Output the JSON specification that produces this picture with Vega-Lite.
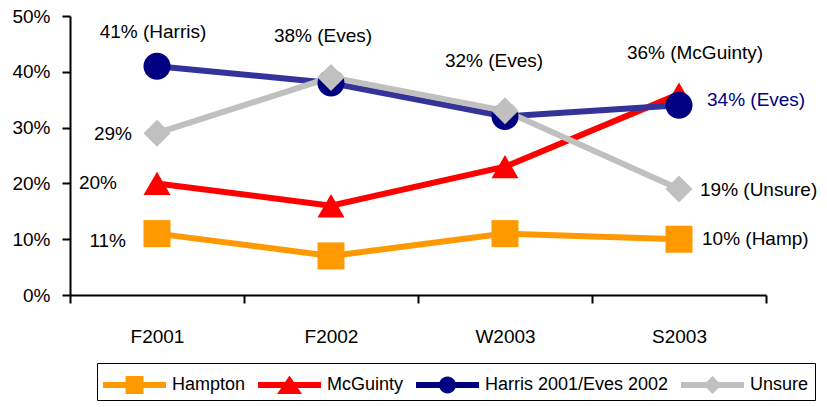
{
  "$schema": "https://vega.github.io/schema/vega-lite/v6.json",
  "width": 696,
  "height": 279,
  "autosize": {"type": "none"},
  "padding": {"left": 70, "top": 16, "right": 61, "bottom": 112},
  "background": "white",
  "config": {
    "font": "Liberation Sans, Arial, sans-serif",
    "view": {"stroke": null},
    "axis": {"grid": false, "domainColor": "black", "tickColor": "black", "domainWidth": 2, "tickWidth": 2, "tickSize": 8, "labelFontSize": 19, "labelColor": "black", "labelFont": "Liberation Sans, Arial, sans-serif"},
    "text": {"font": "Liberation Sans, Arial, sans-serif", "fontSize": 19, "baseline": "middle"}
  },
  "data": {"values": [
    {"period": "F2001", "series": "Hampton", "value": 0.11, "label": "11%"},
    {"period": "F2002", "series": "Hampton", "value": 0.07, "label": ""},
    {"period": "W2003", "series": "Hampton", "value": 0.11, "label": ""},
    {"period": "S2003", "series": "Hampton", "value": 0.10, "label": "10% (Hamp)"},
    {"period": "F2001", "series": "McGuinty", "value": 0.20, "label": "20%"},
    {"period": "F2002", "series": "McGuinty", "value": 0.16, "label": ""},
    {"period": "W2003", "series": "McGuinty", "value": 0.23, "label": ""},
    {"period": "S2003", "series": "McGuinty", "value": 0.36, "label": "36% (McGuinty)"},
    {"period": "F2001", "series": "Harris 2001/Eves 2002", "value": 0.41, "label": "41% (Harris)"},
    {"period": "F2002", "series": "Harris 2001/Eves 2002", "value": 0.38, "label": "38% (Eves)"},
    {"period": "W2003", "series": "Harris 2001/Eves 2002", "value": 0.32, "label": "32% (Eves)"},
    {"period": "S2003", "series": "Harris 2001/Eves 2002", "value": 0.34, "label": "34% (Eves)"},
    {"period": "F2001", "series": "Unsure", "value": 0.29, "label": "29%"},
    {"period": "F2002", "series": "Unsure", "value": 0.39, "label": ""},
    {"period": "W2003", "series": "Unsure", "value": 0.33, "label": ""},
    {"period": "S2003", "series": "Unsure", "value": 0.19, "label": "19% (Unsure)"}
  ]},
  "encoding": {
    "x": {"field": "period", "type": "ordinal", "sort": ["F2001", "F2002", "W2003", "S2003"],
      "scale": {"type": "band", "paddingInner": 0, "paddingOuter": 0},
      "axis": {"title": null, "labelAngle": 0, "tickBand": "extent", "labelPadding": 24}},
    "y": {"field": "value", "type": "quantitative",
      "scale": {"domain": [0, 0.5], "nice": false, "zero": true},
      "axis": {"title": null, "format": ".0%", "values": [0, 0.1, 0.2, 0.3, 0.4, 0.5], "labelPadding": 12}}
  },
  "layer": [
    {
      "mark": {"type": "line", "strokeWidth": 6},
      "encoding": {
        "color": {"field": "series", "type": "nominal",
          "scale": {"domain": ["Hampton", "McGuinty", "Harris 2001/Eves 2002", "Unsure"], "range": ["#FF9900", "#FF0000", "#333399", "#C0C0C0"]},
          "legend": null}
      }
    },
    {
      "mark": {"type": "point", "filled": true, "opacity": 1, "size": 729, "strokeWidth": 0},
      "encoding": {
        "color": {"field": "series", "type": "nominal",
          "scale": {"domain": ["Hampton", "McGuinty", "Harris 2001/Eves 2002", "Unsure"], "range": ["#FF9900", "#FF0000", "#000080", "#C0C0C0"]},
          "legend": null},
        "shape": {"field": "series", "type": "nominal",
          "scale": {"domain": ["Hampton", "McGuinty", "Harris 2001/Eves 2002", "Unsure"], "range": ["square", "triangle-up", "circle", "diamond"]},
          "legend": null}
      }
    },
    {
      "transform": [{"filter": "datum.value < 0"}],
      "mark": {"type": "point", "filled": true, "opacity": 1, "size": 1024, "strokeWidth": 0},
      "encoding": {
        "color": {"field": "series", "type": "nominal",
          "scale": {"domain": ["Hampton", "McGuinty", "Harris 2001/Eves 2002", "Unsure"], "range": ["#FF9900", "#FF0000", "#000080", "#C0C0C0"]},
          "legend": {"title": null, "orient": "none", "legendX": 27, "legendY": 347, "direction": "horizontal",
            "strokeColor": "black", "padding": 6, "labelFontSize": 18, "labelColor": "black", "labelLimit": 400,
            "labelFont": "Liberation Sans, Arial, sans-serif",
            "labelOffset": 37, "columnPadding": 12, "symbolSize": 1024, "symbolStrokeWidth": 0, "symbolOpacity": 1, "fillColor": "white"}},
        "shape": {"field": "series", "type": "nominal",
          "scale": {"domain": ["Hampton", "McGuinty", "Harris 2001/Eves 2002", "Unsure"], "range": [
            "M-1,-0.19H2.94V0.19H-1Z M0.41,-0.56H1.53V0.56H0.41Z",
            "M-1,-0.19H2.94V0.19H-1Z M0.97,-0.6L1.75,0.56L0.19,0.56Z",
            "M-1,-0.19H2.94V0.19H-1Z M0.44,0A0.53,0.53 0 1,1 1.5,0A0.53,0.53 0 1,1 0.44,0Z",
            "M-1,-0.19H2.94V0.19H-1Z M0.97,-0.56L1.53,0L0.97,0.56L0.41,0Z"
          ]}}
      }
    },
    {"transform": [{"filter": "datum.label === '41% (Harris)'"}], "mark": {"type": "text", "align": "center", "dx": -4, "dy": -34}, "encoding": {"text": {"field": "label"}}},
    {"transform": [{"filter": "datum.label === '38% (Eves)'"}], "mark": {"type": "text", "align": "center", "dx": -8, "dy": -47}, "encoding": {"text": {"field": "label"}}},
    {"transform": [{"filter": "datum.label === '32% (Eves)'"}], "mark": {"type": "text", "align": "center", "dx": -11, "dy": -55}, "encoding": {"text": {"field": "label"}}},
    {"transform": [{"filter": "datum.label === '36% (McGuinty)'"}], "mark": {"type": "text", "align": "center", "dx": 16, "dy": -41}, "encoding": {"text": {"field": "label"}}},
    {"transform": [{"filter": "datum.label === '34% (Eves)'"}], "mark": {"type": "text", "align": "left", "dx": 28, "dy": -5, "color": "#000080"}, "encoding": {"text": {"field": "label"}}},
    {"transform": [{"filter": "datum.label === '19% (Unsure)'"}], "mark": {"type": "text", "align": "left", "dx": 21, "dy": 1}, "encoding": {"text": {"field": "label"}}},
    {"transform": [{"filter": "datum.label === '10% (Hamp)'"}], "mark": {"type": "text", "align": "left", "dx": 23, "dy": 0}, "encoding": {"text": {"field": "label"}}},
    {"transform": [{"filter": "datum.label === '29%'"}], "mark": {"type": "text", "align": "right", "dx": -25, "dy": 1}, "encoding": {"text": {"field": "label"}}},
    {"transform": [{"filter": "datum.label === '20%'"}], "mark": {"type": "text", "align": "right", "dx": -40, "dy": 0}, "encoding": {"text": {"field": "label"}}},
    {"transform": [{"filter": "datum.label === '11%'"}], "mark": {"type": "text", "align": "right", "dx": -31, "dy": 7}, "encoding": {"text": {"field": "label"}}}
  ],
  "resolve": {"scale": {"color": "independent", "shape": "independent"}, "legend": {"color": "independent", "shape": "independent"}}
}
